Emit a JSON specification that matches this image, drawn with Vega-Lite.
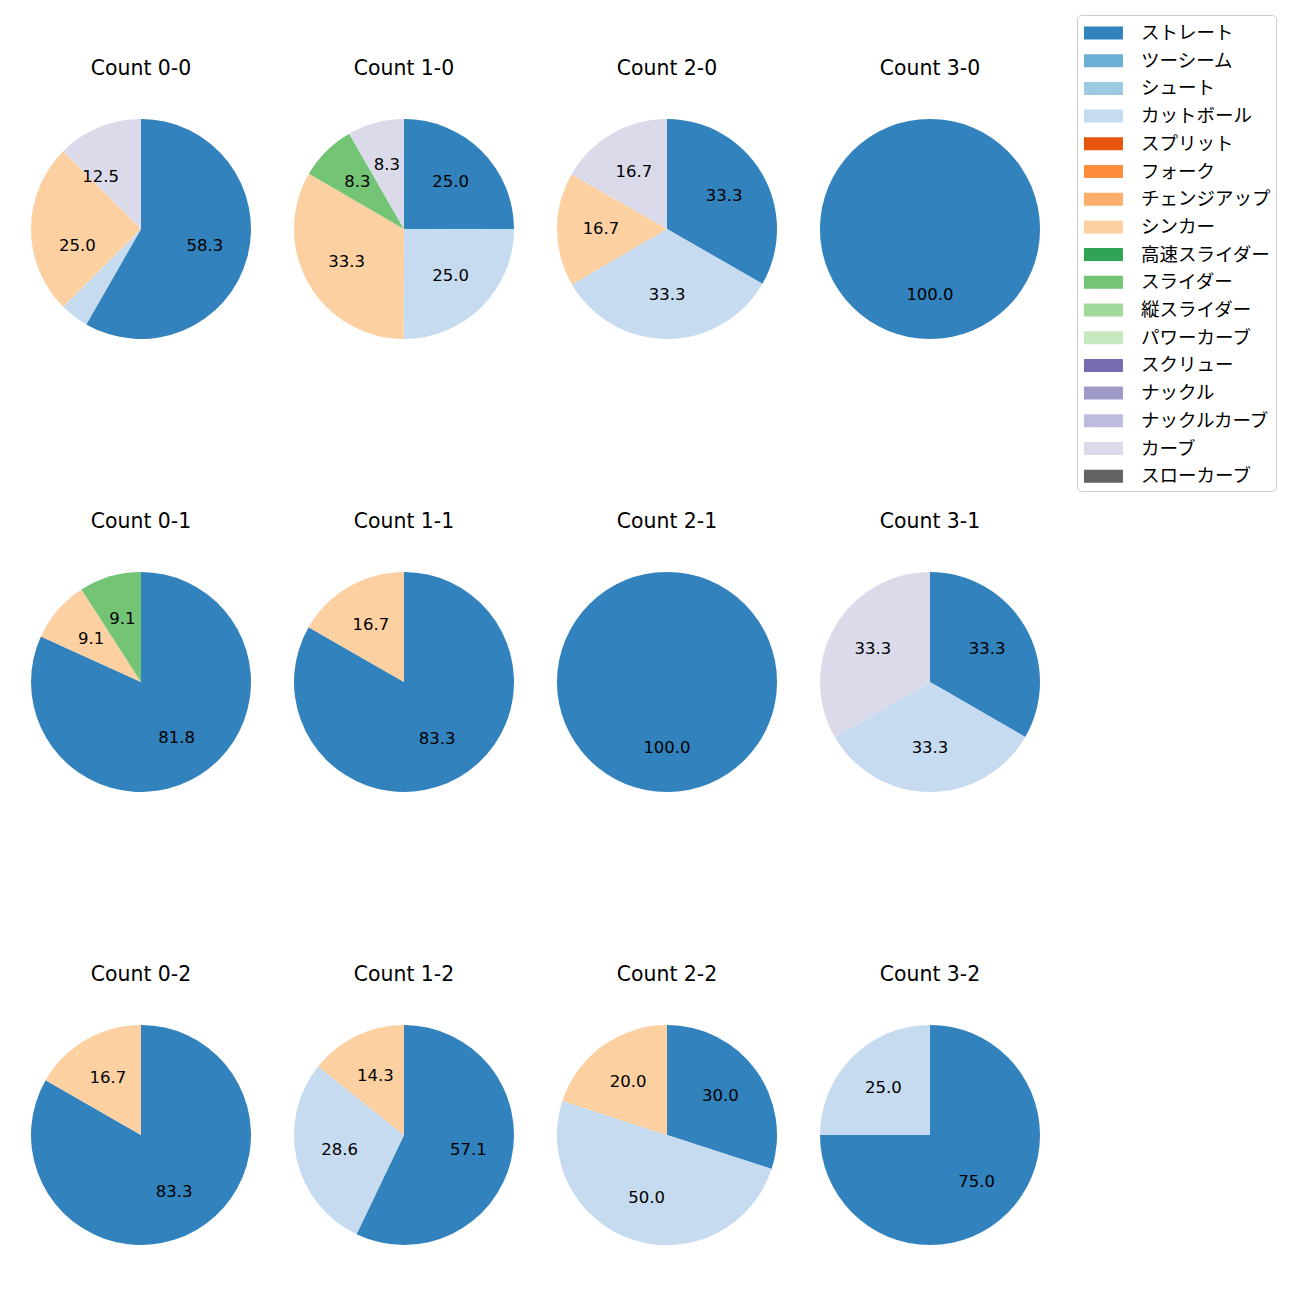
{
  "$schema": "https://vega.github.io/schema/vega-lite/v6.json",
  "padding": {"left": 31, "top": 14, "right": 5, "bottom": 5},
  "background": "white",
  "config": {
    "view": {"stroke": null},
    "font": "DejaVu Sans, Noto Sans CJK JP"
  },
  "data": {
    "values": [
      {"count": "Count 0-0", "pitch": "ストレート", "pct": 58.3},
      {"count": "Count 0-0", "pitch": "カットボール", "pct": 4.2},
      {"count": "Count 0-0", "pitch": "シンカー", "pct": 25.0},
      {"count": "Count 0-0", "pitch": "カーブ", "pct": 12.5},
      {"count": "Count 1-0", "pitch": "ストレート", "pct": 25.0},
      {"count": "Count 1-0", "pitch": "カットボール", "pct": 25.0},
      {"count": "Count 1-0", "pitch": "シンカー", "pct": 33.3},
      {"count": "Count 1-0", "pitch": "スライダー", "pct": 8.3},
      {"count": "Count 1-0", "pitch": "カーブ", "pct": 8.3},
      {"count": "Count 2-0", "pitch": "ストレート", "pct": 33.3},
      {"count": "Count 2-0", "pitch": "カットボール", "pct": 33.3},
      {"count": "Count 2-0", "pitch": "シンカー", "pct": 16.7},
      {"count": "Count 2-0", "pitch": "カーブ", "pct": 16.7},
      {"count": "Count 3-0", "pitch": "ストレート", "pct": 100.0},
      {"count": "Count 0-1", "pitch": "ストレート", "pct": 81.8},
      {"count": "Count 0-1", "pitch": "シンカー", "pct": 9.1},
      {"count": "Count 0-1", "pitch": "スライダー", "pct": 9.1},
      {"count": "Count 1-1", "pitch": "ストレート", "pct": 83.3},
      {"count": "Count 1-1", "pitch": "シンカー", "pct": 16.7},
      {"count": "Count 2-1", "pitch": "ストレート", "pct": 100.0},
      {"count": "Count 3-1", "pitch": "ストレート", "pct": 33.3},
      {"count": "Count 3-1", "pitch": "カットボール", "pct": 33.3},
      {"count": "Count 3-1", "pitch": "カーブ", "pct": 33.3},
      {"count": "Count 0-2", "pitch": "ストレート", "pct": 83.3},
      {"count": "Count 0-2", "pitch": "シンカー", "pct": 16.7},
      {"count": "Count 1-2", "pitch": "ストレート", "pct": 57.1},
      {"count": "Count 1-2", "pitch": "カットボール", "pct": 28.6},
      {"count": "Count 1-2", "pitch": "シンカー", "pct": 14.3},
      {"count": "Count 2-2", "pitch": "ストレート", "pct": 30.0},
      {"count": "Count 2-2", "pitch": "カットボール", "pct": 50.0},
      {"count": "Count 2-2", "pitch": "シンカー", "pct": 20.0},
      {"count": "Count 3-2", "pitch": "ストレート", "pct": 75.0},
      {"count": "Count 3-2", "pitch": "カットボール", "pct": 25.0}
    ]
  },
  "facet": {
    "field": "count",
    "type": "nominal",
    "sort": ["Count 0-0", "Count 1-0", "Count 2-0", "Count 3-0", "Count 0-1", "Count 1-1", "Count 2-1", "Count 3-1", "Count 0-2", "Count 1-2", "Count 2-2", "Count 3-2"],
    "header": {"title": null, "labelFontSize": 20.4, "labelPadding": 40, "labelColor": "black", "labelFont": "DejaVu Sans"}
  },
  "columns": 4,
  "spacing": {"column": 43, "row": 172},
  "resolve": {"scale": {"theta": "independent"}},
  "spec": {
    "width": 220,
    "height": 220,
    "encoding": {
      "theta": {"field": "pct", "type": "quantitative", "stack": true},
      "order": {"field": "order", "type": "quantitative"}
    },
    "transform": [
      {"lookup": "pitch", "from": {"data": {"values": [
        {"pitch": "ストレート", "order": 1}, {"pitch": "ツーシーム", "order": 2}, {"pitch": "シュート", "order": 3}, {"pitch": "カットボール", "order": 4},
        {"pitch": "スプリット", "order": 5}, {"pitch": "フォーク", "order": 6}, {"pitch": "チェンジアップ", "order": 7}, {"pitch": "シンカー", "order": 8},
        {"pitch": "高速スライダー", "order": 9}, {"pitch": "スライダー", "order": 10}, {"pitch": "縦スライダー", "order": 11}, {"pitch": "パワーカーブ", "order": 12},
        {"pitch": "スクリュー", "order": 13}, {"pitch": "ナックル", "order": 14}, {"pitch": "ナックルカーブ", "order": 15}, {"pitch": "カーブ", "order": 16}, {"pitch": "スローカーブ", "order": 17}
      ]}, "key": "pitch", "fields": ["order"]}}
    ],
    "layer": [
      {
        "mark": {"type": "arc", "outerRadius": 110},
        "encoding": {
          "color": {
            "field": "pitch",
            "type": "nominal",
            "scale": {
              "domain": ["ストレート", "ツーシーム", "シュート", "カットボール", "スプリット", "フォーク", "チェンジアップ", "シンカー", "高速スライダー", "スライダー", "縦スライダー", "パワーカーブ", "スクリュー", "ナックル", "ナックルカーブ", "カーブ", "スローカーブ"],
              "range": ["#3182bd", "#6baed6", "#9ecae1", "#c6dbef", "#e6550d", "#fd8d3c", "#fdae6b", "#fdd0a2", "#31a354", "#74c476", "#a1d99b", "#c7e9c0", "#756bb1", "#9e9ac8", "#bcbddc", "#dadaeb", "#636363"]
            },
            "legend": {
              "title": null,
              "orient": "none",
              "legendX": 1046,
              "legendY": -104,
              "symbolType": "M-0.85,-0.5H2.15V0.5H-0.85Z",
              "symbolSize": 676,
              "symbolStrokeWidth": 0,
              "symbolOpacity": 1,
              "labelFontSize": 18.5,
              "labelFont": "DejaVu Sans, Noto Sans CJK JP",
              "labelColor": "black",
              "labelOffset": 33,
              "labelExpr": "datum.label + '    '",
              "rowPadding": 4.7,
              "padding": 5,
              "strokeColor": "#cccccc",
              "fillColor": "white",
              "cornerRadius": 4,
              "labelLimit": 300
            }
          }
        }
      },
      {
        "transform": [{"filter": "datum.pct >= 5"}],
        "mark": {"type": "text", "radius": 66, "fontSize": 16.5, "color": "black", "font": "DejaVu Sans"},
        "encoding": {
          "text": {"field": "pct", "type": "quantitative", "format": ".1f"}
        }
      }
    ]
  }
}
